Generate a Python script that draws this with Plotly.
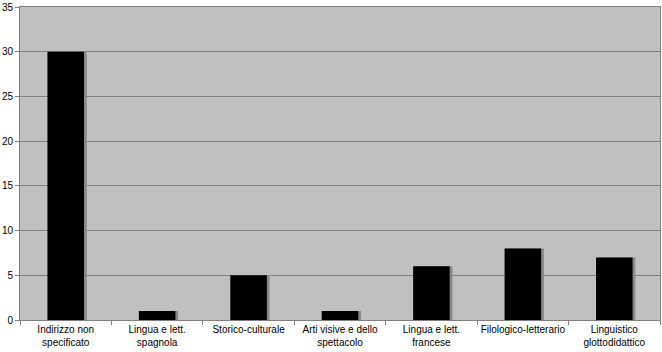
import plotly.graph_objects as go

categories = ["Indirizzo non<br>specificato", "Lingua e lett.<br>spagnola", "Storico-culturale",
              "Arti visive e dello<br>spettacolo", "Lingua e lett.<br>francese",
              "Filologico-letterario", "Linguistico<br>glottodidattico"]
values = [30, 1, 5, 1, 6, 8, 7]
y_ticks = [0, 5, 10, 15, 20, 25, 30, 35]

fig = go.Figure()
# shadow
fig.add_trace(go.Bar(x=categories, y=values, marker=dict(color="#888888", line=dict(width=0)),
                     width=0.4, offset=-0.17, hoverinfo="skip", showlegend=False))
fig.add_trace(go.Bar(x=categories, y=values, marker=dict(color="#000000", line=dict(width=0)),
                     width=0.4, offset=-0.2, showlegend=False))

fig.update_layout(
    width=662, height=352,
    margin=dict(l=20, r=2, t=7, b=32),
    paper_bgcolor="white", plot_bgcolor="#C0C0C0",
    barmode="overlay",
    font=dict(family="Liberation Sans, Arial", size=10, color="black"),
    xaxis=dict(showline=True, linecolor="#808080", linewidth=1, mirror=True,
               ticks="outside", tickcolor="#808080", ticklen=4, tickson="boundaries",
               showgrid=False, tickfont=dict(size=10), tickangle=0, automargin=False),
    yaxis=dict(range=[0, 35], tickvals=y_ticks, showline=True, linecolor="#808080", mirror=True,
               ticks="outside", tickcolor="#808080", ticklen=4, automargin=False,
               gridcolor="#808080", gridwidth=1, zeroline=False, tickfont=dict(size=10)),
)
fig.write_html("out.html")
